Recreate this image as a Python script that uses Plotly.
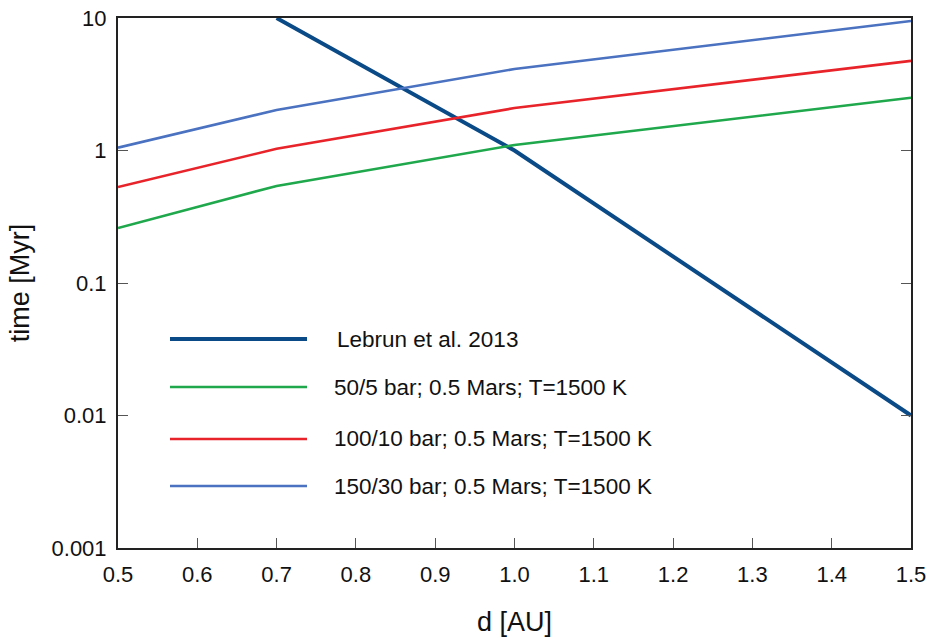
import plotly.graph_objects as go

# Distance from the star [AU]
d_lebrun = [0.7, 1.0, 1.5]
t_lebrun = [10.0, 1.0, 0.01]

d_model = [0.5, 0.7, 1.0, 1.5]
t_50_5 = [0.26, 0.54, 1.1, 2.5]
t_100_10 = [0.53, 1.03, 2.09, 4.75]
t_150_30 = [1.05, 2.02, 4.12, 9.5]

names = [
    "Lebrun et al. 2013",
    "50/5 bar; 0.5 Mars; T=1500 K",
    "100/10 bar; 0.5 Mars; T=1500 K",
    "150/30 bar; 0.5 Mars; T=1500 K",
]
colors = ["#0a4a86", "#1fa84c", "#e8232a", "#4a72c0"]
widths = [4, 2.6, 2.6, 2.6]

y_tickvals = [0.001, 0.01, 0.1, 1, 10]
y_ticktext = ["0.001", "0.01", "0.1", "1", "10"]
x_tickvals = [0.5, 0.6, 0.7, 0.8, 0.9, 1.0, 1.1, 1.2, 1.3, 1.4, 1.5]

series = [
    (d_lebrun, t_lebrun),
    (d_model, t_50_5),
    (d_model, t_100_10),
    (d_model, t_150_30),
]

fig = go.Figure()
for (xs, ys), name, c, w in zip(series, names, colors, widths):
    fig.add_trace(go.Scatter(x=xs, y=ys, mode="lines", name=name,
                             line=dict(color=c, width=w), showlegend=False))

# Hand-drawn legend inside the plot area (paper coordinates)
W, H = 930, 639
L, R, T, B = 118, 19, 18, 91
pw, ph = W - L - R, H - T - B

def px_x(p):
    return (p - L) / pw

def px_y(p):
    return (H - B - p) / ph

legend_rows = [339, 387, 439, 486]
text_x = [335, 332, 332, 332]
for row, name, c, w, tx in zip(legend_rows, names, colors, widths, text_x):
    fig.add_shape(type="line", xref="paper", yref="paper",
                  x0=px_x(170), x1=px_x(307), y0=px_y(row), y1=px_y(row),
                  line=dict(color=c, width=w))
    fig.add_annotation(xref="paper", yref="paper", x=px_x(tx), y=px_y(row),
                       text=name, showarrow=False, xanchor="left", yanchor="middle",
                       font=dict(size=22.5, color="#111"))

axis_common = dict(
    showgrid=False, zeroline=False, automargin=False,
    showline=True, linecolor="#222", linewidth=2,
    ticks="inside", ticklen=10, tickcolor="#555", tickwidth=1,
    tickfont=dict(size=22, color="#111"),
)

fig.update_xaxes(range=[0.5, 1.5], tickvals=x_tickvals, tickformat=".1f",
                 mirror=True, ticklabelstandoff=6,
                 title=dict(text="d [AU]", font=dict(size=27, color="#111"), standoff=26),
                 **axis_common)
fig.update_yaxes(type="log", range=[-3, 1], tickvals=y_tickvals, ticktext=y_ticktext,
                 mirror="ticks", ticklabelstandoff=5,
                 title=dict(text="time [Myr]", font=dict(size=27, color="#111"), standoff=14),
                 **axis_common)

fig.update_layout(
    width=W, height=H,
    margin=dict(l=L, r=R, t=T, b=B),
    paper_bgcolor="white", plot_bgcolor="white",
    font=dict(family="Liberation Sans, Arial, sans-serif"),
)

fig.write_html("out.html")
